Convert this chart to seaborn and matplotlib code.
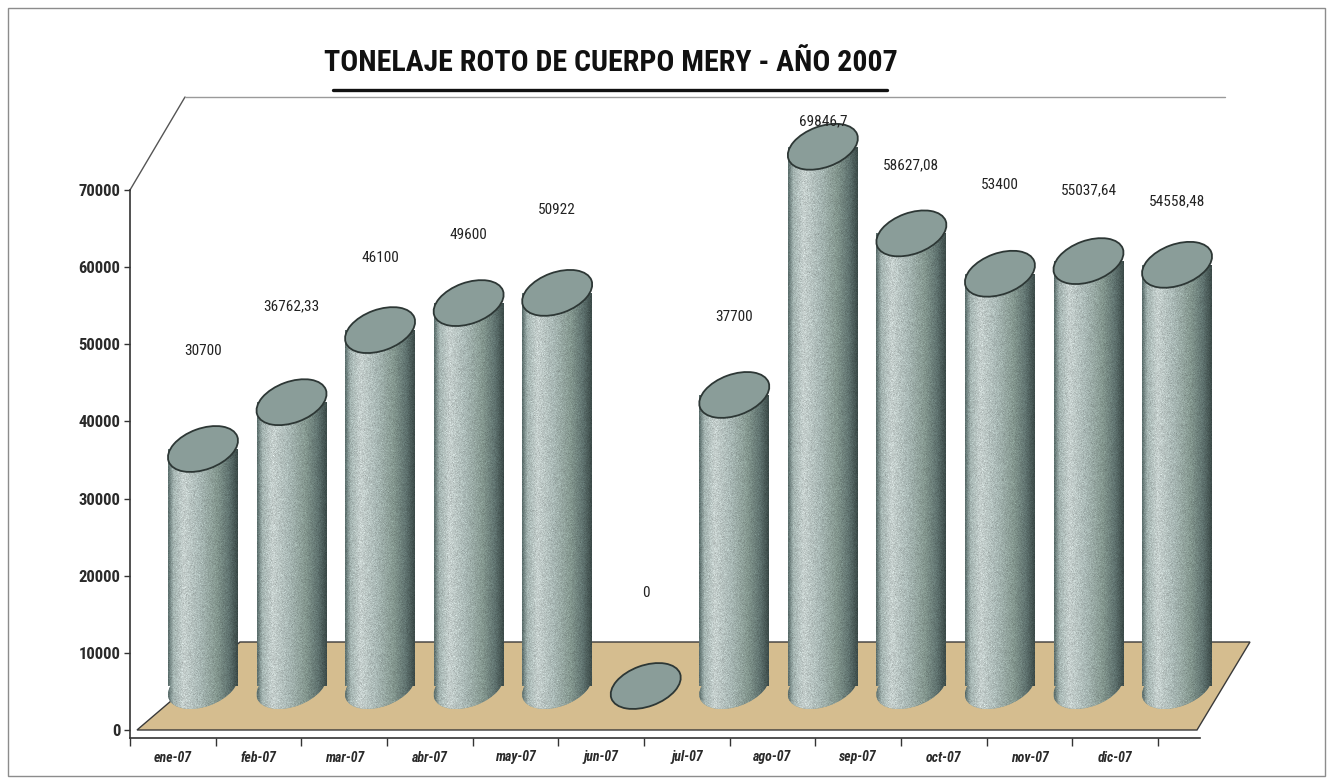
import numpy as np
import pandas as pd
import matplotlib
matplotlib.use("Agg")
import matplotlib.pyplot as plt
import seaborn as sns
from matplotlib import font_manager, transforms
from matplotlib.patches import Ellipse, Polygon, Rectangle
from matplotlib.lines import Line2D
from matplotlib.colors import LinearSegmentedColormap

# ---- data -------------------------------------------------------------
months = ["ene-07", "feb-07", "mar-07", "abr-07", "may-07", "jun-07",
          "jul-07", "ago-07", "sep-07", "oct-07", "nov-07", "dic-07"]
tonnage = [30700, 36762.33, 46100, 49600, 50922, 0,
           37700, 69846.7, 58627.08, 53400, 55037.64, 54558.48]
y_ticks = [0, 10000, 20000, 30000, 40000, 50000, 60000, 70000]
title = "TONELAJE ROTO DE CUERPO MERY - AÑO 2007"

# ---- styling ----------------------------------------------------------
# how far (in pixels) each value label floats above its cylinder top
label_lift = [98, 96, 72, 68, 83, 93, 78, 25, 68, 89, 71, 64]

sns.set_theme(style="white")


def pick_font(candidates):
    for name in candidates:
        try:
            font_manager.findfont(font_manager.FontProperties(family=name),
                                  fallback_to_default=False)
            return name
        except ValueError:
            continue
    return "DejaVu Sans"


NARROW = pick_font(["Liberation Sans Narrow", "Roboto Condensed",
                    "Open Sans Condensed", "DejaVu Sans"])
STRETCH = "condensed" if NARROW == "DejaVu Sans" else "normal"
plt.rcParams["font.family"] = [NARROW, "DejaVu Sans"]


def fmt(v):
    if float(v).is_integer():
        return str(int(v))
    return f"{v:.2f}".rstrip("0").replace(".", ",")


W, H = 1332, 782
fig = plt.figure(figsize=(W / 100, H / 100), dpi=100)
fig.patch.set_facecolor("white")


def fx(px):
    return px / W


def fy(py):
    return 1 - py / H


def box(left, right, top, bottom):
    return [fx(left), fy(bottom), fx(right) - fx(left), fy(top) - fy(bottom)]


# ---- chart furniture: floor, walls, border, title ---------------------
floor = Polygon([(fx(137), fy(730)), (fx(240), fy(642)),
                 (fx(1250), fy(642)), (fx(1197), fy(730))],
                closed=True, transform=fig.transFigure,
                facecolor="#d5bd8f", edgecolor="#3a3a3a", lw=1.0, zorder=-1)
fig.add_artist(floor)
fig.add_artist(Line2D([fx(130), fx(185)], [fy(190), fy(97)],
                      transform=fig.transFigure, color="#555555", lw=1.0, zorder=-1))
fig.add_artist(Line2D([fx(185), fx(1225)], [fy(97), fy(97)],
                      transform=fig.transFigure, color="#9a9a9a", lw=1.0, zorder=-1))
fig.add_artist(Rectangle((fx(8), fy(776)), fx(1325) - fx(8), fy(8) - fy(776),
                         transform=fig.transFigure, fill=False,
                         edgecolor="#8c8c8c", lw=1.0, zorder=-1))

fig.text(fx(611), fy(63), title, ha="center", va="center",
         fontsize=21.5, fontweight="bold", color="#111111",
         family=[NARROW, "DejaVu Sans"], fontstretch=STRETCH)
fig.add_artist(Line2D([fx(333), fx(887)], [fy(90), fy(90)],
                      transform=fig.transFigure, color="#111111", lw=2.4))

# ---- front axes: value scale and month axis ---------------------------
ax = fig.add_axes(box(130, 1200, 190, 738))
ax.set_facecolor("none")
ax.set_ylim(-1040, 70000)
ax.set_xlim(-0.466, 11.99)
for side in ("top", "right"):
    ax.spines[side].set_visible(False)
for side in ("left", "bottom"):
    ax.spines[side].set_color("#333333")
    ax.spines[side].set_linewidth(1.2)
ax.set_yticks(y_ticks)
ax.set_yticklabels([str(t) for t in y_ticks], fontsize=12, fontweight="bold",
                   color="#2a2a2a", fontstretch=STRETCH)
ax.tick_params(axis="y", direction="out", length=4, width=1, color="#333333",
               pad=3, left=True)
ax.set_xticks(range(len(months)))
ax.set_xticklabels(months, fontsize=10, fontstyle="italic", fontweight="bold",
                   color="#2a2a2a", fontstretch=STRETCH)
ax.set_xticks(np.arange(-0.5, len(months), 1.0), minor=True)
ax.tick_params(axis="x", which="major", length=0, pad=9)
ax.tick_params(axis="x", which="minor", direction="out", length=6, width=1,
               color="#333333", bottom=True)
ax.grid(False)

# ---- cylinders --------------------------------------------------------
# zero of the cylinder plane sits at 686 px; the axes reaches lower so the
# rounded bases are not clipped
px_per_unit = 7.72 / 1000
ylim_top = (686 - 97) / px_per_unit
ylim_bot = -(722 - 686) / px_per_unit
axb = fig.add_axes(box(130, 1250, 97, 722))
axb.set_facecolor("none")
df = pd.DataFrame({"mes": months, "toneladas": tonnage})
sns.barplot(data=df, x="mes", y="toneladas", ax=axb, color="#8b9f9b",
            saturation=1, width=0.79, errorbar=None, zorder=2)

xlim_b = (-0.824, 11.824)
axb.set_ylim(ylim_bot, ylim_top)
axb.set_xlim(*xlim_b)
axb.axis("off")

body_cmap = LinearSegmentedColormap.from_list(
    "body", [(0.0, "#5d706e"), (0.07, "#a4b4b1"), (0.22, "#c6d0ce"),
             (0.45, "#a9b8b5"), (0.7, "#84978f"), (0.88, "#5f726f"),
             (1.0, "#3d4c4a")])
rng = np.random.default_rng(11)


def textured(rows, cols=70):
    t = np.linspace(0, 1, cols)
    rgb = body_cmap(t)[:, :3][None, :, :].repeat(rows, axis=0)
    grain = 1 + rng.normal(0, 0.05, size=(rows, cols))[..., None]
    return np.clip(rgb * grain, 0, 1)


ell_w, ell_h, ell_ang = 0.73, 0.41, 20   # inches / degrees

for i, bar in enumerate(list(axb.patches)):
    x0, w, v = bar.get_x(), bar.get_width(), bar.get_height()
    xc = x0 + w / 2
    bar.set_edgecolor("none")

    # rounded base of the cylinder
    base_tr = fig.dpi_scale_trans + transforms.ScaledTranslation(xc, 0, axb.transData)
    base = Ellipse((0, 0), ell_w, ell_h, angle=ell_ang, transform=base_tr,
                   facecolor="#7d918e", edgecolor="none", zorder=1.5)
    axb.add_patch(base)
    im = axb.imshow(textured(30), extent=(x0, x0 + w, -3600, 0),
                    aspect="auto", interpolation="nearest", zorder=1.6)
    im.set_clip_path(base)

    # shaded body
    if v > 0:
        rows = max(int(v * px_per_unit), 2)
        im = axb.imshow(textured(rows), extent=(x0, x0 + w, 0, v),
                        aspect="auto", interpolation="nearest", zorder=2.5)
        im.set_clip_path(bar)

    # flat top
    top_tr = fig.dpi_scale_trans + transforms.ScaledTranslation(xc, v, axb.transData)
    axb.add_patch(Ellipse((0, 0), ell_w, ell_h, angle=ell_ang, transform=top_tr,
                          facecolor="#8a9d99", edgecolor="#2d3735", lw=1.3,
                          zorder=4))

    axb.annotate(fmt(tonnage[i]), (xc, v), xytext=(0, label_lift[i] * 0.72),
                 textcoords="offset points", ha="center", va="center",
                 fontsize=11, color="#222222", fontstretch=STRETCH,
                 annotation_clip=False, zorder=5)

axb.set_ylim(ylim_bot, ylim_top)
axb.set_xlim(*xlim_b)

fig.savefig("out.png", dpi=100, facecolor="white")
